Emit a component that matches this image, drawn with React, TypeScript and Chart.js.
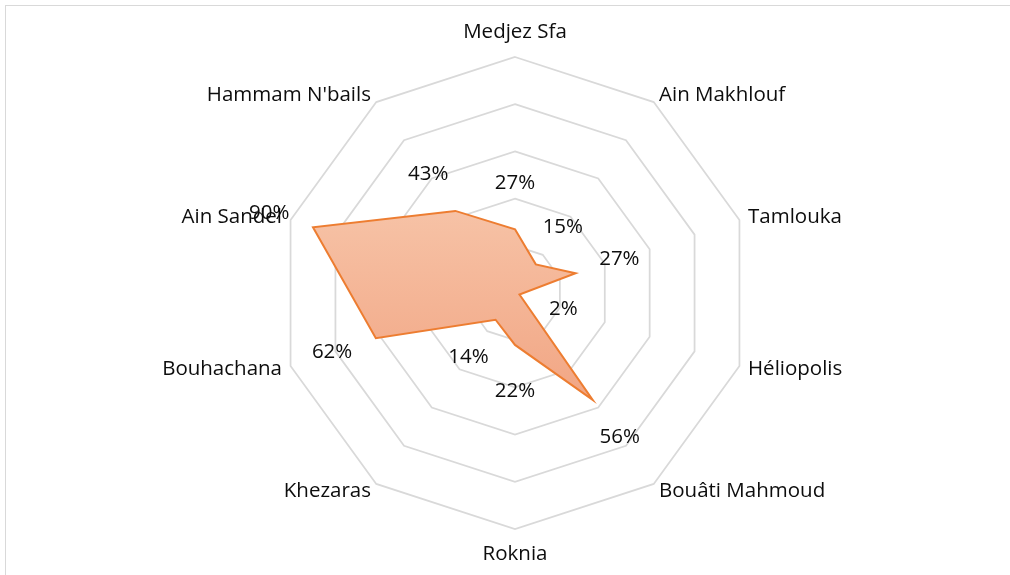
import React, { useEffect, useRef } from "react";
import { Chart, registerables } from "chart.js";

Chart.register(...registerables);

const categories: string[] = [
  "Medjez Sfa",
  "Ain Makhlouf",
  "Tamlouka",
  "Héliopolis",
  "Bouâti Mahmoud",
  "Roknia",
  "Khezaras",
  "Bouhachana",
  "Ain Sandel",
  "Hammam N'bails",
];

const values: number[] = [27, 15, 27, 2, 56, 22, 14, 62, 90, 43];

const valueLabels: string[] = ["27%", "15%", "27%", "2%", "56%", "22%", "14%", "62%", "90%", "43%"];

const FONT_FAMILY = "'Open Sans', 'Noto Sans', sans-serif";
const FONT_SIZE = 20.5;
const TEXT_COLOR = "#0d0d0d";

const labelsPlugin = {
  id: "customLabels",
  afterDatasetsDraw(chart: any) {
    const scale = chart.scales.r;
    const ctx = chart.ctx;
    ctx.save();
    ctx.font = `${FONT_SIZE}px ${FONT_FAMILY}`;
    ctx.fillStyle = TEXT_COLOR;
    const cx = scale.xCenter;
    // category labels
    categories.forEach((name, i) => {
      const probe = scale.getPointPosition(i, scale.drawingArea);
      const isVertical = Math.abs(probe.x - cx) < 1;
      const d = scale.drawingArea + (isVertical ? 25 : 9);
      const p = scale.getPointPosition(i, d);
      ctx.textBaseline = "middle";
      if (isVertical) ctx.textAlign = "center";
      else if (p.x > cx) ctx.textAlign = "left";
      else ctx.textAlign = "right";
      ctx.fillText(name, p.x, p.y);
    });
    // value labels
    values.forEach((v, i) => {
      const d = scale.getDistanceFromCenterForValue(v) + 46;
      const p = scale.getPointPosition(i, d);
      ctx.textAlign = "center";
      ctx.textBaseline = "middle";
      ctx.fillText(valueLabels[i], p.x, p.y);
    });
    ctx.restore();
  },
};

export default function App() {
  const canvasRef = useRef<HTMLCanvasElement | null>(null);

  useEffect(() => {
    if (!canvasRef.current) return;
    const chart = new Chart(canvasRef.current, {
      type: "radar",
      data: {
        labels: categories,
        datasets: [
          {
            label: "Series",
            data: values,
            borderColor: "#ED7D31",
            borderWidth: 2,
            pointRadius: 0,
            pointHoverRadius: 0,
            fill: true,
            tension: 0,
            backgroundColor: (c: any) => {
              const ch = c.chart;
              const sc = ch.scales?.r;
              if (!sc || !ch.chartArea) return "rgba(244,177,140,1)";
              const r = sc.drawingArea;
              const g = ch.ctx.createLinearGradient(0, sc.yCenter - 0.4 * r, 0, sc.yCenter + 0.5 * r);
              g.addColorStop(0, "rgb(247,196,168)");
              g.addColorStop(1, "rgb(241,164,130)");
              return g;
            },
          },
        ],
      },
      options: {
        animation: false,
        responsive: false,
        maintainAspectRatio: false,
        layout: { padding: { left: 279, right: 259, top: 57, bottom: 46 } },
        plugins: {
          legend: { display: false },
          tooltip: { enabled: false },
          title: { display: false },
        },
        scales: {
          r: {
            min: 0,
            max: 100,
            ticks: { display: false, stepSize: 20 },
            pointLabels: { display: false },
            angleLines: { display: false },
            grid: { color: "#d9d9d9", lineWidth: 1.75 },
          },
        },
      },
      plugins: [labelsPlugin],
    });
    return () => chart.destroy();
  }, []);

  return (
    <div
      style={{
        position: "fixed",
        left: 0,
        top: 0,
        width: 1010,
        height: 575,
        overflow: "hidden",
        background: "#ffffff",
      }}
    >
      <div
        style={{
          position: "absolute",
          left: 5,
          top: 5,
          width: 1200,
          height: 800,
          border: "1px solid #d9d9d9",
        }}
      />
      <canvas
        ref={canvasRef}
        width={1010}
        height={575}
        style={{ position: "absolute", left: 0, top: 0, width: 1010, height: 575 }}
      />
    </div>
  );
}
